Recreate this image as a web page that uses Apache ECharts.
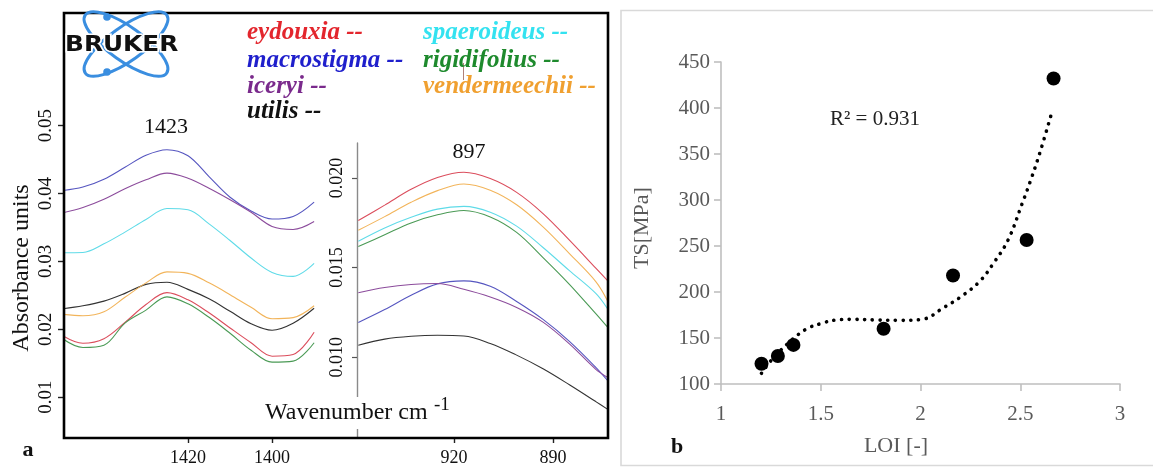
<!DOCTYPE html>
<html>
<head>
<meta charset="utf-8">
<script src="https://cdn.jsdelivr.net/npm/echarts@6/dist/echarts.min.js"></script>
<style>
  html, body { margin: 0; padding: 0; background: #ffffff; }
  #chart { width: 1153px; height: 467px; }
</style>
</head>
<body>
<div id="chart"></div>
<script>
// ---- Panel a, band near 1423 cm-1 ----
const wavenumber1423 = [1450, 1445, 1440, 1435, 1430, 1425, 1420, 1415, 1410, 1405, 1400, 1395, 1390];
const eydouxia1423      = [0.01912, 0.01794, 0.01860, 0.02100, 0.02365, 0.02540, 0.02434, 0.02243, 0.02019, 0.01801, 0.01603, 0.01628, 0.01956];
const macrostigma1423   = [0.04044, 0.04096, 0.04212, 0.04388, 0.04565, 0.04647, 0.04557, 0.04250, 0.03946, 0.03744, 0.03625, 0.03663, 0.03875];
const iceryi1423        = [0.03713, 0.03794, 0.03916, 0.04071, 0.04203, 0.04301, 0.04226, 0.04079, 0.03909, 0.03724, 0.03515, 0.03471, 0.03588];
const utilis1423        = [0.02301, 0.02346, 0.02415, 0.02529, 0.02662, 0.02694, 0.02588, 0.02449, 0.02265, 0.02081, 0.01985, 0.02088, 0.02309];
const spaeroideus1423   = [0.03128, 0.03132, 0.03259, 0.03432, 0.03618, 0.03780, 0.03762, 0.03554, 0.03309, 0.03050, 0.02838, 0.02779, 0.02971];
const rigidifolius1423  = [0.01868, 0.01732, 0.01765, 0.02091, 0.02282, 0.02478, 0.02375, 0.02176, 0.01941, 0.01691, 0.01515, 0.01530, 0.01801];
const vendermeechii1423 = [0.02221, 0.02199, 0.02257, 0.02471, 0.02684, 0.02846, 0.02824, 0.02684, 0.02510, 0.02324, 0.02154, 0.02171, 0.02346];

// ---- Panel a, band near 897 cm-1 ----
const wavenumber897 = [949, 941, 933, 925, 917, 909, 901, 893, 885, 877, 873.5];
const eydouxia897      = [0.01762, 0.01848, 0.01936, 0.02002, 0.02031, 0.01996, 0.01919, 0.01801, 0.01653, 0.01497, 0.01428];
const macrostigma897   = [0.01194, 0.01266, 0.01346, 0.01409, 0.01426, 0.01396, 0.01311, 0.01211, 0.01089, 0.00944, 0.00872];
const iceryi897        = [0.01360, 0.01389, 0.01406, 0.01411, 0.01379, 0.01336, 0.01278, 0.01196, 0.01075, 0.00933, 0.00889];
const utilis897        = [0.01067, 0.01101, 0.01117, 0.01123, 0.01119, 0.01077, 0.01012, 0.00936, 0.00847, 0.00753, 0.00711];
const spaeroideus897   = [0.01647, 0.01721, 0.01780, 0.01826, 0.01841, 0.01809, 0.01731, 0.01612, 0.01483, 0.01356, 0.01272];
const rigidifolius897  = [0.01617, 0.01683, 0.01749, 0.01794, 0.01818, 0.01782, 0.01696, 0.01556, 0.01407, 0.01243, 0.01169];
const vendermeechii897 = [0.01708, 0.01784, 0.01864, 0.01929, 0.01966, 0.01931, 0.01850, 0.01727, 0.01578, 0.01422, 0.01317];

const ticks1423X = [1420, 1400];
const ticks1423Y = [0.01, 0.02, 0.03, 0.04, 0.05];
const ticks897X = [920, 890];
const ticks897Y = [0.010, 0.015, 0.020];

// ---- Panel b, tensile strength vs LOI ----
const loi = [1.203, 1.285, 1.363, 1.815, 2.163, 2.532, 2.667];
const tensileStrength = [122, 130.5, 142.5, 160, 218, 256.5, 432];
const trendLoi = [1.203, 1.249, 1.34, 1.428, 1.498, 1.578, 1.662, 1.772, 1.895, 2.008, 2.12, 2.195, 2.295, 2.37, 2.44, 2.51, 2.55, 2.60, 2.657];
const trendTs  = [111.6, 125, 145, 159.8, 165.5, 169.6, 170.3, 169.6, 169.2, 170.3, 183.6, 193.7, 211.2, 232.6, 257, 296.4, 320, 352.5, 394.3];

const species = [
  { name: 'eydouxia',      text: '#e3262d', line: '#db4d5c', a: eydouxia1423,      b: eydouxia897 },
  { name: 'macrostigma',   text: '#1f1fcc', line: '#5656c0', a: macrostigma1423,   b: macrostigma897 },
  { name: 'iceryi',        text: '#7a2a8c', line: '#8c4c9c', a: iceryi1423,        b: iceryi897 },
  { name: 'utilis',        text: '#111111', line: '#333333', a: utilis1423,        b: utilis897 },
  { name: 'spaeroideus',   text: '#33e2f0', line: '#5fdbe8', a: spaeroideus1423,   b: spaeroideus897 },
  { name: 'rigidifolius',  text: '#1e8a2d', line: '#4a9a55', a: rigidifolius1423,  b: rigidifolius897 },
  { name: 'vendermeechii', text: '#f0a030', line: '#f2b45a', a: vendermeechii1423, b: vendermeechii897 }
];

const SERIF = '"Liberation Serif", "Times New Roman", serif';

function pairs(xs, ys) { return xs.map((x, i) => [x, ys[i]]); }

const series = [];
species.forEach(s => {
  series.push({
    type: 'line', name: s.name + ' 1423', xAxisIndex: 0, yAxisIndex: 0,
    data: pairs(wavenumber1423, s.a), smooth: 0.35, showSymbol: false, silent: true,
    lineStyle: { color: s.line, width: 1.1 }, z: 3
  });
  series.push({
    type: 'line', name: s.name + ' 897', xAxisIndex: 1, yAxisIndex: 1,
    data: pairs(wavenumber897, s.b), smooth: 0.35, showSymbol: false, silent: true,
    lineStyle: { color: s.line, width: 1.1 }, z: 3
  });
});
series.push({
  type: 'line', name: 'trend', xAxisIndex: 2, yAxisIndex: 2,
  data: pairs(trendLoi, trendTs), smooth: 0.4, showSymbol: false, silent: true,
  lineStyle: { color: '#000000', width: 3.6, type: [0.1, 7.6], cap: 'round' }, z: 3
});
series.push({
  type: 'scatter', name: 'TS', xAxisIndex: 2, yAxisIndex: 2,
  data: pairs(loi, tensileStrength), symbol: 'circle', symbolSize: 14,
  itemStyle: { color: '#000000', opacity: 1 }, z: 4
});

const legendLeft = ['eydouxia', 'macrostigma', 'iceryi', 'utilis'];
const legendRight = ['spaeroideus', 'rigidifolius', 'vendermeechii'];
const legendRowsY = [33, 61, 87, 112];

const graphics = [];
// frame of panel a
graphics.push({ type: 'rect', z: 20, shape: { x: 64, y: 13, width: 544, height: 425 },
  style: { fill: 'none', stroke: '#000000', lineWidth: 2.6 } });
// frame of panel b
graphics.push({ type: 'rect', z: 20, shape: { x: 621, y: 10.5, width: 545, height: 455 },
  style: { fill: 'none', stroke: '#d9d9d9', lineWidth: 1.6 } });

// Bruker logo
graphics.push({ type: 'ellipse', z: 21, x: 126, y: 44, rotation: -0.62,
  shape: { cx: 0, cy: 0, rx: 50, ry: 17 }, style: { fill: 'none', stroke: '#3a8ee0', lineWidth: 3 } });
graphics.push({ type: 'ellipse', z: 21, x: 126, y: 44, rotation: 0.62,
  shape: { cx: 0, cy: 0, rx: 50, ry: 17 }, style: { fill: 'none', stroke: '#3a8ee0', lineWidth: 3 } });
graphics.push({ type: 'circle', z: 21, shape: { cx: 107, cy: 17, r: 3.8 }, style: { fill: '#3a8ee0' } });
graphics.push({ type: 'circle', z: 21, shape: { cx: 107, cy: 72, r: 3.8 }, style: { fill: '#3a8ee0' } });
graphics.push({ type: 'text', z: 22, x: 65, y: 46, scaleX: 1.18,
  style: { text: 'BRUKER', x: 0, y: 0, font: 'bold 21px "DejaVu Sans"', fill: '#111111',
    stroke: '#ffffff', lineWidth: 3, textAlign: 'left', textVerticalAlign: 'middle' } });

// species legend
function addLegend(names, x) {
  names.forEach((n, i) => {
    const s = species.find(p => p.name === n);
    graphics.push({ type: 'text', z: 22,
      style: { text: n + ' --', x: x, y: legendRowsY[i], font: 'italic bold 25px ' + SERIF, fill: s.text,
        textAlign: 'left', textVerticalAlign: 'middle' } });
  });
}
addLegend(legendLeft, 247);
addLegend(legendRight, 423);
graphics.push({ type: 'line', z: 21, shape: { x1: 463.5, y1: 63, x2: 463.5, y2: 80 },
  style: { stroke: '#b08078', lineWidth: 1 } });

// band labels
graphics.push({ type: 'text', z: 22, style: { text: '1423', x: 166, y: 127, font: '22px ' + SERIF,
  fill: '#111', textAlign: 'center', textVerticalAlign: 'middle' } });
graphics.push({ type: 'text', z: 22, style: { text: '897', x: 469, y: 152, font: '22px ' + SERIF,
  fill: '#111', textAlign: 'center', textVerticalAlign: 'middle' } });

// axis titles of panel a
graphics.push({ type: 'text', z: 22, x: 22, y: 268, rotation: Math.PI / 2,
  style: { text: 'Absorbance units', x: 0, y: 0, font: '24px ' + SERIF, fill: '#111',
    textAlign: 'center', textVerticalAlign: 'middle' } });
graphics.push({ type: 'rect', z: 21, shape: { x: 262, y: 397, width: 196, height: 32 }, style: { fill: '#ffffff' } });
graphics.push({ type: 'text', z: 22, style: { text: 'Wavenumber cm', x: 265, y: 413, font: '24px ' + SERIF,
  fill: '#111', textAlign: 'left', textVerticalAlign: 'middle' } });
graphics.push({ type: 'text', z: 22, style: { text: '-1', x: 434, y: 405, font: '19px ' + SERIF,
  fill: '#111', textAlign: 'left', textVerticalAlign: 'middle' } });
graphics.push({ type: 'text', z: 22, style: { text: 'a', x: 28, y: 450, font: 'bold 22px ' + SERIF,
  fill: '#111', textAlign: 'center', textVerticalAlign: 'middle' } });

// panel b texts
graphics.push({ type: 'text', z: 22, x: 642, y: 228, rotation: Math.PI / 2,
  style: { text: 'TS[MPa]', x: 0, y: 0, font: '22px ' + SERIF, fill: '#595959',
    textAlign: 'center', textVerticalAlign: 'middle' } });
graphics.push({ type: 'text', z: 22, style: { text: 'LOI [-]', x: 896, y: 446, font: '22px ' + SERIF,
  fill: '#595959', textAlign: 'center', textVerticalAlign: 'middle' } });
graphics.push({ type: 'text', z: 22, style: { text: 'b', x: 677, y: 447, font: 'bold 22px ' + SERIF,
  fill: '#111', textAlign: 'center', textVerticalAlign: 'middle' } });
graphics.push({ type: 'text', z: 22, style: { text: 'R² = 0.931', x: 830, y: 119, font: '21px ' + SERIF,
  fill: '#222', textAlign: 'left', textVerticalAlign: 'middle' } });

const blackTick = { show: true, inside: false, length: 6, lineStyle: { color: '#222', width: 1.4 } };
const plain = v => String(v);

const option = {
  backgroundColor: '#ffffff',
  animation: false,
  grid: [
    { left: 64, top: 13, width: 293, height: 425 },
    { left: 357, top: 143, width: 251, height: 295 },
    { left: 721, top: 62, width: 399, height: 322 }
  ],
  xAxis: [
    { gridIndex: 0, type: 'value', inverse: true, min: 1379.8, max: 1449.5,
      axisLine: { show: false }, splitLine: { show: false },
      axisTick: Object.assign({ customValues: ticks1423X }, blackTick),
      axisLabel: { customValues: ticks1423X, margin: 12, fontFamily: SERIF, fontSize: 18, color: '#111', formatter: plain } },
    { gridIndex: 1, type: 'value', inverse: true, min: 873.3, max: 949.4,
      axisLine: { show: false }, splitLine: { show: false },
      axisTick: Object.assign({ customValues: ticks897X }, blackTick),
      axisLabel: { customValues: ticks897X, margin: 12, fontFamily: SERIF, fontSize: 18, color: '#111', formatter: plain } },
    { gridIndex: 2, type: 'value', min: 1, max: 3, interval: 0.5,
      axisLine: { show: true, lineStyle: { color: '#bfbfbf', width: 1.6 } },
      axisTick: { show: true, inside: false, length: 7, lineStyle: { color: '#bfbfbf', width: 1.6 } },
      splitLine: { show: false },
      axisLabel: { margin: 20, fontFamily: SERIF, fontSize: 21, color: '#595959', formatter: plain } }
  ],
  yAxis: [
    { gridIndex: 0, type: 'value', min: 0.004118, max: 0.066618,
      axisLine: { show: false }, splitLine: { show: false },
      axisTick: Object.assign({ customValues: ticks1423Y }, blackTick),
      axisLabel: { customValues: ticks1423Y, rotate: 90, margin: 8, fontFamily: SERIF, fontSize: 19, color: '#111',
        formatter: v => v.toFixed(2) } },
    { gridIndex: 1, type: 'value', min: 0.005556, max: 0.021944,
      axisLine: { show: true, lineStyle: { color: '#8a8a8a', width: 1.4 } }, splitLine: { show: false },
      axisTick: { show: true, inside: false, length: 5, customValues: ticks897Y, lineStyle: { color: '#555', width: 1.2 } },
      axisLabel: { customValues: ticks897Y, rotate: 90, margin: 11, fontFamily: SERIF, fontSize: 18, color: '#111',
        formatter: v => v.toFixed(3) } },
    { gridIndex: 2, type: 'value', min: 100, max: 450, interval: 50,
      axisLine: { show: true, lineStyle: { color: '#bfbfbf', width: 1.6 } },
      axisTick: { show: true, inside: false, length: 7, lineStyle: { color: '#bfbfbf', width: 1.6 } },
      splitLine: { show: false },
      axisLabel: { margin: 11, fontFamily: SERIF, fontSize: 21, color: '#595959', formatter: plain } }
  ],
  graphic: { elements: graphics },
  series: series
};

const chart = echarts.init(document.getElementById('chart'), null, { renderer: 'canvas' });
chart.setOption(option);
</script>
</body>
</html>
